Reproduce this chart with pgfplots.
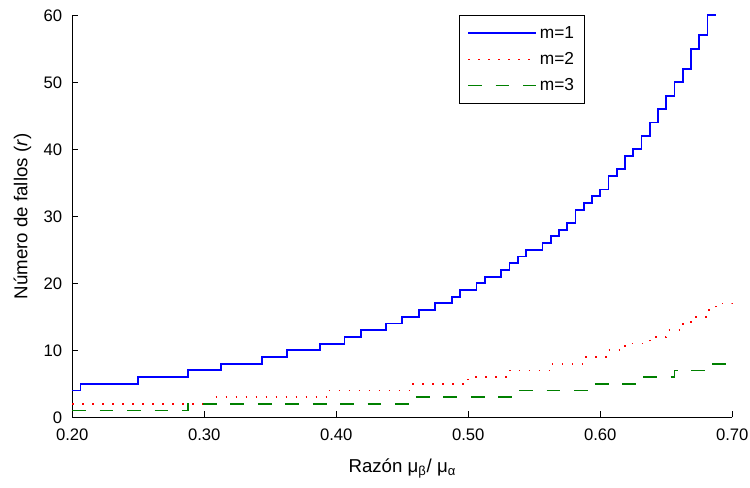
\documentclass[border=0pt]{standalone}
\usepackage{fontspec}
\setmainfont{Liberation Sans}
\usepackage{pgfplots}
\pgfplotsset{compat=1.18}

\definecolor{mgreen}{rgb}{0,0.5,0}

\begin{document}
\begin{tikzpicture}
\begin{axis}[
    scale only axis,
    width=495pt, height=301.5pt,
    xmin=0.2, xmax=0.7,
    ymin=0, ymax=60,
    xtick={0.2,0.3,0.4,0.5,0.6,0.7},
    ytick={0,10,20,30,40,50,60},
    axis x line=bottom,
    axis y line=left,
    axis line style={-, line width=0.6pt},
    tick align=inside,
    major tick length=4.5pt,
    tick style={line width=0.6pt, black},
    clip=false,
    /pgf/number format/assume math mode=true,
    xticklabel style={/pgf/number format/.cd, fixed, fixed zerofill, precision=2, /tikz/.cd, yshift=-5pt},
    yticklabel style={xshift=-4pt},
    ticklabel style={font=\fontsize{12.5}{15}\selectfont},
    label style={font=\fontsize{14}{17}\selectfont},
    xlabel style={yshift=-7pt},
    ylabel style={yshift=2.5pt},
    xlabel={Razón μ\textsubscript{β}/ μ\textsubscript{α}},
    ylabel={Número de fallos (\textit{r})},
    legend style={at={(0.777,1)}, anchor=north east, draw=black, line width=0.6pt,
        font=\fontsize{13}{16}\selectfont, cells={anchor=west},
        row sep=5pt, inner xsep=6pt, inner ysep=6pt},
    legend image code/.code={\draw[#1] (0pt,0pt) -- (51pt,0pt);},
  ]
  \addplot[const plot, blue, line width=1.4pt] coordinates {
    (0.2,4) (0.20625,5) (0.25,6) (0.2875,7) (0.3125,8) (0.34375,9)
    (0.3625,10) (0.3875,11) (0.40625,12) (0.41875,13) (0.4375,14)
    (0.45,15) (0.4625,16) (0.475,17) (0.4875,18) (0.49375,19)
    (0.50625,20) (0.5125,21) (0.525,22) (0.53125,23) (0.5375,24)
    (0.54375,25) (0.55625,26) (0.5625,27) (0.56875,28) (0.575,29)
    (0.58125,31) (0.5875,32) (0.59375,33) (0.6,34) (0.60625,36)
    (0.6125,37) (0.61875,39) (0.625,40) (0.63125,42) (0.6375,44)
    (0.64375,46) (0.65,48) (0.65625,50) (0.6625,52) (0.66875,55)
    (0.675,57) (0.68125,60) (0.6875,60)
  };
  \addlegendentry{m=1}
  \addplot[const plot, red, line width=1.3pt, dash pattern=on 1pt off 6.5pt] coordinates {
    (0.2,2) (0.30625,3) (0.39375,4) (0.45625,5) (0.5,6) (0.53125,7)
    (0.5625,8) (0.5875,9) (0.60625,10) (0.61875,11) (0.6375,12)
    (0.65,13) (0.6625,14) (0.66875,15) (0.68125,16) (0.6875,17) (0.7,18)
  };
  \addlegendentry{m=2}
  \addplot[const plot, mgreen, line width=1.3pt, dash pattern=on 10.3pt off 10.3pt] coordinates {
    (0.2,1) (0.2875,2) (0.45625,3) (0.5375,4) (0.59375,5)
    (0.63125,6) (0.65625,7) (0.68125,8) (0.7,9)
  };
  \addlegendentry{m=3}
\end{axis}
\pgfresetboundingbox
\path ([xshift=-54.2pt,yshift=-52.3pt]current axis.south west)
  rectangle ([xshift=13.3pt,yshift=11.5pt]current axis.north east);
\end{tikzpicture}
\end{document}
